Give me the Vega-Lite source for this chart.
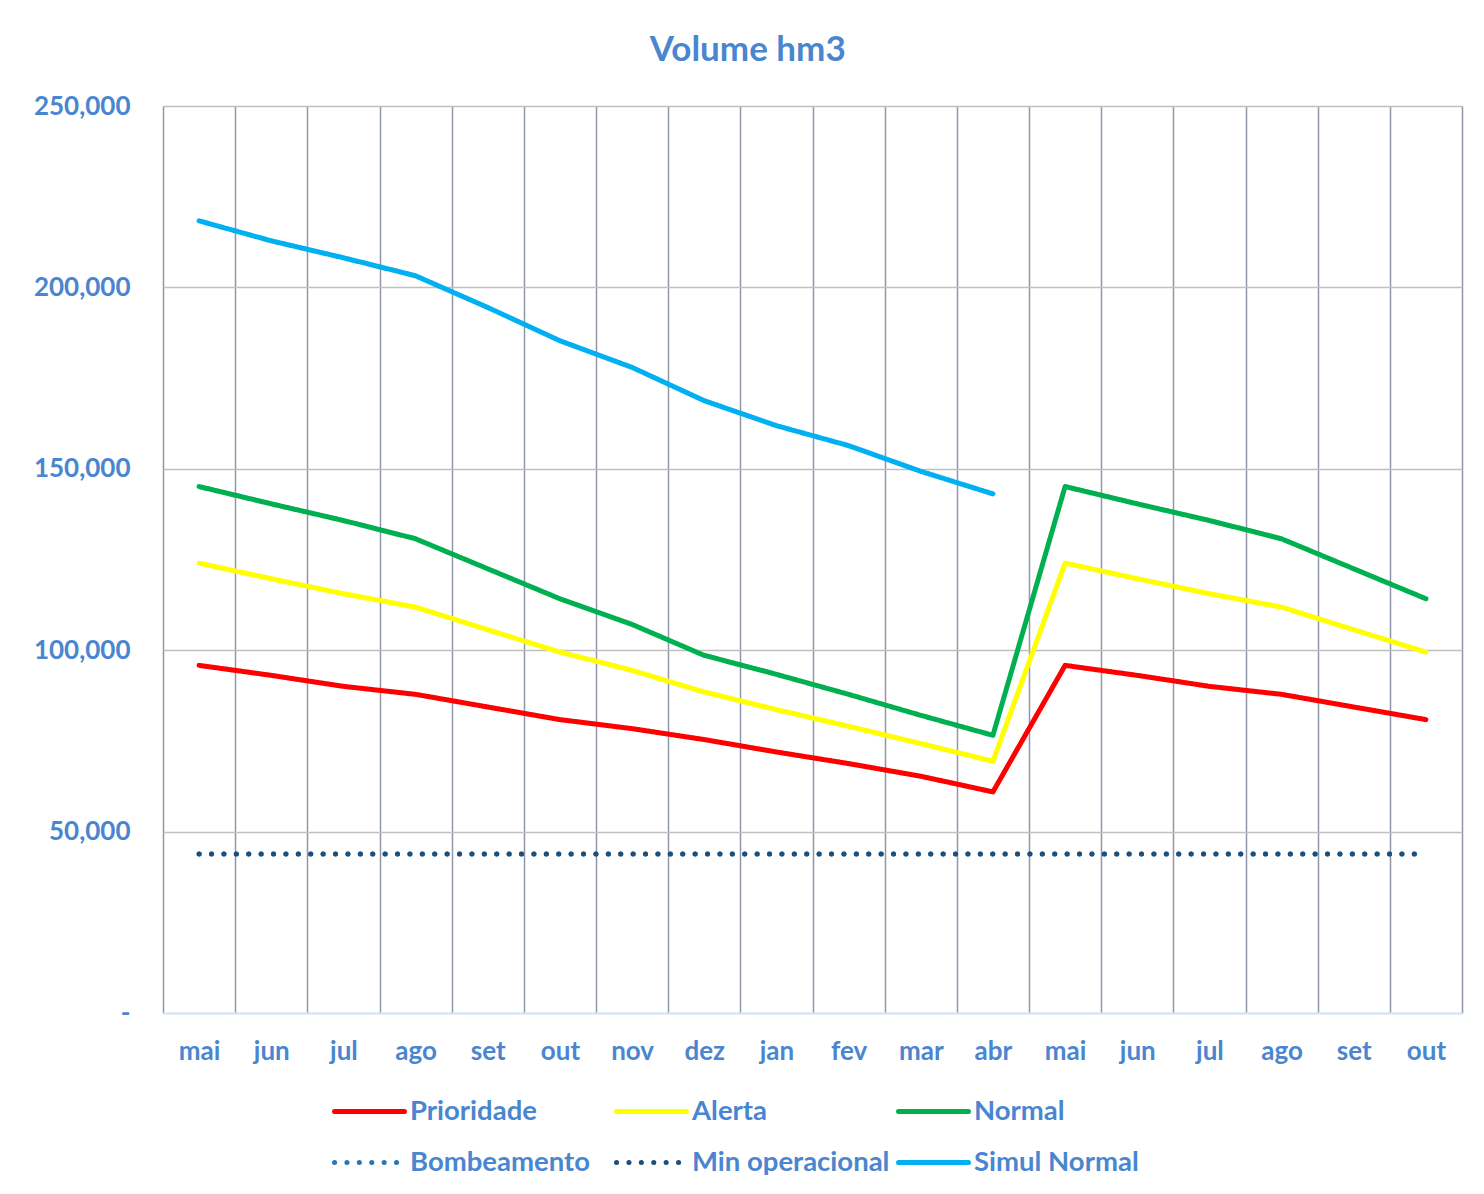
{
  "$schema": "https://vega.github.io/schema/vega-lite/v6.json",
  "autosize": "none",
  "width": 1299,
  "height": 907,
  "padding": {"left": 163, "top": 106, "right": 22, "bottom": 181},
  "background": "white",
  "title": {"text": "Volume hm3", "font": "Lato", "fontSize": 35, "fontWeight": "bold", "color": "#4A86D0", "anchor": "middle", "frame": "bounds", "offset": 25},
  "config": {
    "view": {"stroke": null},
    "legend": {
      "orient": "none", "legendX": 169, "legendY": 968, "direction": "horizontal", "columns": 3,
      "symbolType": "stroke", "symbolSize": 4900, "symbolStrokeWidth": 5,
      "labelFont": "Lato", "labelFontSize": 27.5, "labelFontWeight": "bold", "labelColor": "#4A86D0",
      "labelOffset": 3, "columnPadding": -2, "rowPadding": -19, "gridAlign": "all", "labelLimit": 0
    }
  },
  "data": {"values": [
    {"m": "mai 1", "s": "Prioridade", "v": 95815}, {"m": "jun 1", "s": "Prioridade", "v": 93062}, {"m": "jul 1", "s": "Prioridade", "v": 90033}, {"m": "ago 1", "s": "Prioridade", "v": 87830}, {"m": "set 1", "s": "Prioridade", "v": 84341}, {"m": "out 1", "s": "Prioridade", "v": 80864}, {"m": "nov 1", "s": "Prioridade", "v": 78387}, {"m": "dez 1", "s": "Prioridade", "v": 75360}, {"m": "jan 1", "s": "Prioridade", "v": 71944}, {"m": "fev 1", "s": "Prioridade", "v": 68750}, {"m": "mar 1", "s": "Prioridade", "v": 65253}, {"m": "abr 1", "s": "Prioridade", "v": 60940}, {"m": "mai 2", "s": "Prioridade", "v": 95815}, {"m": "jun 2", "s": "Prioridade", "v": 93062}, {"m": "jul 2", "s": "Prioridade", "v": 90033}, {"m": "ago 2", "s": "Prioridade", "v": 87830}, {"m": "set 2", "s": "Prioridade", "v": 84341}, {"m": "out 2", "s": "Prioridade", "v": 80864},
    {"m": "mai 1", "s": "Alerta", "v": 123984}, {"m": "jun 1", "s": "Alerta", "v": 119690}, {"m": "jul 1", "s": "Alerta", "v": 115556}, {"m": "ago 1", "s": "Alerta", "v": 111870}, {"m": "set 1", "s": "Alerta", "v": 105646}, {"m": "out 1", "s": "Alerta", "v": 99480}, {"m": "nov 1", "s": "Alerta", "v": 94438}, {"m": "dez 1", "s": "Alerta", "v": 88468}, {"m": "jan 1", "s": "Alerta", "v": 83617}, {"m": "fev 1", "s": "Alerta", "v": 79020}, {"m": "mar 1", "s": "Alerta", "v": 74256}, {"m": "abr 1", "s": "Alerta", "v": 69383}, {"m": "mai 2", "s": "Alerta", "v": 123984}, {"m": "jun 2", "s": "Alerta", "v": 119690}, {"m": "jul 2", "s": "Alerta", "v": 115556}, {"m": "ago 2", "s": "Alerta", "v": 111870}, {"m": "set 2", "s": "Alerta", "v": 105646}, {"m": "out 2", "s": "Alerta", "v": 99480},
    {"m": "mai 1", "s": "Normal", "v": 145099}, {"m": "jun 1", "s": "Normal", "v": 140336}, {"m": "jul 1", "s": "Normal", "v": 135738}, {"m": "ago 1", "s": "Normal", "v": 130700}, {"m": "set 1", "s": "Normal", "v": 122440}, {"m": "out 1", "s": "Normal", "v": 114180}, {"m": "nov 1", "s": "Normal", "v": 107103}, {"m": "dez 1", "s": "Normal", "v": 98568}, {"m": "jan 1", "s": "Normal", "v": 93337}, {"m": "fev 1", "s": "Normal", "v": 87830}, {"m": "mar 1", "s": "Normal", "v": 82050}, {"m": "abr 1", "s": "Normal", "v": 76542}, {"m": "mai 2", "s": "Normal", "v": 145099}, {"m": "jun 2", "s": "Normal", "v": 140336}, {"m": "jul 2", "s": "Normal", "v": 135738}, {"m": "ago 2", "s": "Normal", "v": 130700}, {"m": "set 2", "s": "Normal", "v": 122440}, {"m": "out 2", "s": "Normal", "v": 114180},
    {"m": "mai 1", "s": "Bombeamento", "v": 43800}, {"m": "jun 1", "s": "Bombeamento", "v": 43800}, {"m": "jul 1", "s": "Bombeamento", "v": 43800}, {"m": "ago 1", "s": "Bombeamento", "v": 43800}, {"m": "set 1", "s": "Bombeamento", "v": 43800}, {"m": "out 1", "s": "Bombeamento", "v": 43800}, {"m": "nov 1", "s": "Bombeamento", "v": 43800}, {"m": "dez 1", "s": "Bombeamento", "v": 43800}, {"m": "jan 1", "s": "Bombeamento", "v": 43800}, {"m": "fev 1", "s": "Bombeamento", "v": 43800}, {"m": "mar 1", "s": "Bombeamento", "v": 43800}, {"m": "abr 1", "s": "Bombeamento", "v": 43800}, {"m": "mai 2", "s": "Bombeamento", "v": 43800}, {"m": "jun 2", "s": "Bombeamento", "v": 43800}, {"m": "jul 2", "s": "Bombeamento", "v": 43800}, {"m": "ago 2", "s": "Bombeamento", "v": 43800}, {"m": "set 2", "s": "Bombeamento", "v": 43800}, {"m": "out 2", "s": "Bombeamento", "v": 43800},
    {"m": "mai 1", "s": "Min operacional", "v": 43800}, {"m": "jun 1", "s": "Min operacional", "v": 43800}, {"m": "jul 1", "s": "Min operacional", "v": 43800}, {"m": "ago 1", "s": "Min operacional", "v": 43800}, {"m": "set 1", "s": "Min operacional", "v": 43800}, {"m": "out 1", "s": "Min operacional", "v": 43800}, {"m": "nov 1", "s": "Min operacional", "v": 43800}, {"m": "dez 1", "s": "Min operacional", "v": 43800}, {"m": "jan 1", "s": "Min operacional", "v": 43800}, {"m": "fev 1", "s": "Min operacional", "v": 43800}, {"m": "mar 1", "s": "Min operacional", "v": 43800}, {"m": "abr 1", "s": "Min operacional", "v": 43800}, {"m": "mai 2", "s": "Min operacional", "v": 43800}, {"m": "jun 2", "s": "Min operacional", "v": 43800}, {"m": "jul 2", "s": "Min operacional", "v": 43800}, {"m": "ago 2", "s": "Min operacional", "v": 43800}, {"m": "set 2", "s": "Min operacional", "v": 43800}, {"m": "out 2", "s": "Min operacional", "v": 43800},
    {"m": "mai 1", "s": "Simul Normal", "v": 218337}, {"m": "jun 1", "s": "Simul Normal", "v": 212830}, {"m": "jul 1", "s": "Simul Normal", "v": 208150}, {"m": "ago 1", "s": "Simul Normal", "v": 203194}, {"m": "set 1", "s": "Simul Normal", "v": 194467}, {"m": "out 1", "s": "Simul Normal", "v": 185297}, {"m": "nov 1", "s": "Simul Normal", "v": 177948}, {"m": "dez 1", "s": "Simul Normal", "v": 168777}, {"m": "jan 1", "s": "Simul Normal", "v": 161894}, {"m": "fev 1", "s": "Simul Normal", "v": 156388}, {"m": "mar 1", "s": "Simul Normal", "v": 149312}, {"m": "abr 1", "s": "Simul Normal", "v": 143090}
  ]},
  "mark": {"type": "line", "strokeWidth": 5, "strokeCap": "round", "strokeJoin": "round"},
  "encoding": {
    "x": {
      "field": "m", "type": "ordinal", "sort": null,
      "scale": {"paddingInner": 0, "paddingOuter": 0},
      "axis": {
        "title": null, "labelExpr": "isString(datum.value) ? substring(datum.value, 0, 3) : ''", "labelAngle": 0,
        "tickBand": "extent", "grid": true, "gridColor": "#8E96AA", "gridWidth": 1.5,
        "ticks": false, "domainColor": "#D6E3F5", "domainWidth": 2,
        "labelFont": "Lato", "labelFontSize": 26, "labelFontWeight": "bold", "labelColor": "#4A86D0", "labelPadding": 25
      }
    },
    "y": {
      "field": "v", "type": "quantitative",
      "scale": {"domain": [0, 250000]},
      "axis": {
        "title": null, "values": [0, 50000, 100000, 150000, 200000, 250000],
        "labelExpr": "datum.value == 0 ? '-' : format(datum.value, ',')",
        "grid": true, "gridColor": {"condition": {"test": "datum.value === 0", "value": "#D6E3F5"}, "value": "#BFBFBF"}, "gridWidth": 1.5,
        "domain": false, "ticks": false, "labelPadding": 33,
        "labelFont": "Lato", "labelFontSize": 26, "labelFontWeight": "bold", "labelColor": "#4A86D0"
      }
    },
    "color": {
      "field": "s", "type": "nominal", "title": null,
      "scale": {"domain": ["Prioridade", "Alerta", "Normal", "Bombeamento", "Min operacional", "Simul Normal"],
                "range": ["#FF0000", "#FFFF00", "#00B050", "#2E75B6", "#1F4E79", "#00B0F0"]},
      "legend": {"encoding": {"symbols": {"strokeCap": {"value": "round"}}}}
    },
    "strokeDash": {
      "field": "s", "type": "nominal", "title": null,
      "scale": {"domain": ["Prioridade", "Alerta", "Normal", "Bombeamento", "Min operacional", "Simul Normal"],
                "range": [[1, 0], [1, 0], [1, 0], [0.1, 12.3], [0.1, 12.3], [1, 0]]},
      "legend": {"encoding": {"symbols": {"strokeCap": {"value": "round"}}}}
    }
  }
}
